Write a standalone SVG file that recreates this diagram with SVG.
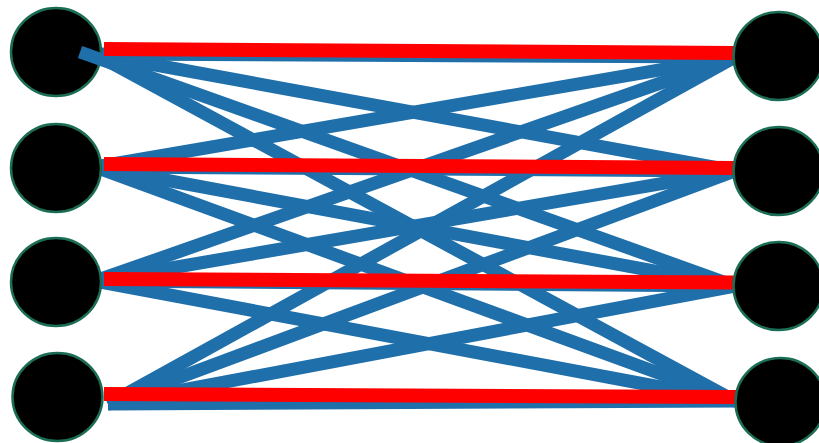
<svg xmlns="http://www.w3.org/2000/svg" width="819" height="443" viewBox="0 0 819 443">
<style>
.b{stroke:#1f6fab;stroke-width:13;fill:none;stroke-linecap:butt}
.r{stroke:#ff0000;stroke-width:14;fill:none}
.n{fill:#000000;stroke:#1b6e55;stroke-width:2.5}
</style>
<g id="connectors">
<line class="b" x1="95" y1="54" x2="735" y2="57"/>
<line class="b" x1="95" y1="54" x2="735" y2="171"/>
<line class="b" x1="95" y1="54" x2="735" y2="401"/>
<line class="b" x1="95" y1="167" x2="735" y2="57"/>
<line class="b" x1="95" y1="167" x2="735" y2="171"/>
<line class="b" x1="95" y1="167" x2="735" y2="286"/>
<line class="b" x1="95" y1="167" x2="735" y2="401"/>
<line class="b" x1="95" y1="281" x2="735" y2="57"/>
<line class="b" x1="95" y1="281" x2="735" y2="171"/>
<line class="b" x1="95" y1="281" x2="735" y2="286"/>
<line class="b" x1="95" y1="281" x2="735" y2="401"/>
<line class="b" x1="108" y1="404" x2="735" y2="57"/>
<line class="b" x1="108" y1="404" x2="735" y2="171"/>
<line class="b" x1="108" y1="404" x2="735" y2="286"/>
<line class="b" x1="108" y1="404" x2="735" y2="401"/>
</g>
<g id="left-nodes">
<ellipse id="L1" class="n" cx="56" cy="52" rx="45" ry="44"/>
<ellipse id="L2" class="n" cx="56" cy="168" rx="45" ry="44"/>
<ellipse id="L3" class="n" cx="56" cy="282" rx="45" ry="44"/>
<ellipse id="L4" class="n" cx="57.5" cy="397" rx="45" ry="44"/>
</g>
<g id="connectors-top">
<line class="b" x1="80" y1="52" x2="735" y2="286"/>
<line class="r" x1="104" y1="49" x2="736" y2="53"/>
<line class="r" x1="104" y1="164" x2="736" y2="168"/>
<line class="r" x1="104" y1="279" x2="736" y2="282.5"/>
<line class="r" x1="104" y1="394" x2="736" y2="397"/>
</g>
<g id="right-nodes">
<ellipse id="R1" class="n" cx="778.5" cy="56" rx="45" ry="44"/>
<ellipse id="R2" class="n" cx="778.5" cy="171" rx="45" ry="44"/>
<ellipse id="R3" class="n" cx="778.5" cy="286" rx="45" ry="44"/>
<ellipse id="R4" class="n" cx="780.5" cy="402" rx="45" ry="44"/>
</g>
</svg>
